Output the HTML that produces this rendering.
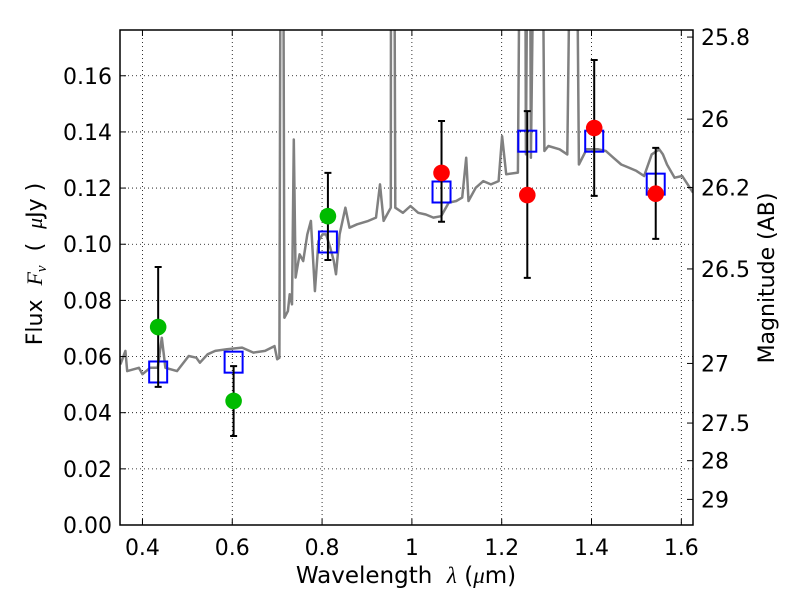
<!DOCTYPE html>
<html><head><meta charset="utf-8"><style>
html,body{margin:0;padding:0;background:#fff;}
svg text{font-family:"DejaVu Sans","Liberation Sans",sans-serif;fill:#000;}
</style></head><body>
<svg id="chart" width="800" height="600" viewBox="0 0 800 600" xmlns="http://www.w3.org/2000/svg">
<defs><clipPath id="plotclip"><rect x="120" y="30" width="573" height="495"/></clipPath></defs>
<rect x="120" y="30" width="573" height="495" fill="#fff"/>
<g id="grid"></g>
<g id="spec" clip-path="url(#plotclip)"></g>
<g id="marks"></g>
<rect x="120" y="30" width="573" height="495" fill="none" stroke="#000" stroke-width="1.5"/>
<g id="axes"></g>
<text x="406" y="583" font-size="23" text-anchor="middle" xml:space="preserve">Wavelength  <tspan font-family="Liberation Serif" font-style="italic">λ</tspan> (<tspan font-family="Liberation Serif" font-style="italic">μ</tspan>m)</text>
<text transform="translate(42,264) rotate(-90)" font-size="22" text-anchor="middle" xml:space="preserve">Flux  <tspan font-family="Liberation Serif" font-style="italic">F<tspan font-size="15" dy="4">ν</tspan></tspan><tspan dy="-4">  (  </tspan><tspan font-family="Liberation Serif" font-style="italic">μ</tspan>Jy )</text>
<text transform="translate(774,278) rotate(-90)" font-size="22" text-anchor="middle">Magnitude (AB)</text>
</svg>
<script>
const xTicks=[0.4,0.6,0.8,1.0,1.2,1.4,1.6];
const xTickLabels=["0.4","0.6","0.8","1","1.2","1.4","1.6"];
const yTicks=[0,0.02,0.04,0.06,0.08,0.10,0.12,0.14,0.16];
const yTickLabels=["0.00","0.02","0.04","0.06","0.08","0.10","0.12","0.14","0.16"];
const magTicks=[25.8,26,26.2,26.5,27,27.5,28,29];
const magTickLabels=["25.8","26","26.2","26.5","27","27.5","28","29"];
const specWave=[0.351,0.362,0.366,0.392,0.400,0.417,0.434,0.443,0.451,0.477,0.503,0.520,0.528,0.545,0.562,0.588,0.622,0.647,0.673,0.694,0.700,0.705,0.709,0.712,0.716,0.724,0.728,0.733,0.737,0.741,0.750,0.758,0.767,0.775,0.784,0.792,0.801,0.809,0.818,0.826,0.831,0.839,0.852,0.861,0.878,0.903,0.920,0.929,0.937,0.953,0.954,0.959,0.963,0.980,0.997,1.014,1.031,1.048,1.065,1.082,1.099,1.112,1.121,1.126,1.142,1.159,1.176,1.193,1.201,1.210,1.236,1.244,1.251,1.254,1.261,1.265,1.278,1.287,1.295,1.304,1.329,1.346,1.359,1.363,1.372,1.389,1.415,1.432,1.449,1.466,1.483,1.500,1.517,1.534,1.551,1.559,1.568,1.585,1.602,1.626];
const specFlux=[0.0572,0.0620,0.0548,0.0560,0.0537,0.0560,0.0560,0.0667,0.0560,0.0548,0.0602,0.0596,0.0578,0.0608,0.0620,0.0626,0.0632,0.0614,0.0620,0.0637,0.0590,0.0596,0.3,0.3,0.0738,0.0762,0.0822,0.0786,0.1373,0.0881,0.0964,0.0940,0.1035,0.1083,0.0833,0.1011,0.1035,0.1035,0.0988,0.0940,0.0893,0.1035,0.1130,0.1059,0.1071,0.1083,0.1095,0.1213,0.1083,0.1130,0.3,0.3,0.1130,0.1112,0.1136,0.1112,0.1106,0.1095,0.1100,0.1148,0.1154,0.1166,0.1308,0.1154,0.1201,0.1225,0.1213,0.1225,0.1385,0.1249,0.1255,0.3,0.3,0.1320,0.3,0.1308,0.3,0.3,0.1332,0.1350,0.1338,0.1320,0.3,0.3,0.1284,0.1338,0.1338,0.1332,0.1308,0.1284,0.1273,0.1261,0.1243,0.1320,0.1338,0.1320,0.1284,0.1237,0.1243,0.1184];
const modelWave=[0.435,0.603,0.813,1.066,1.257,1.406,1.543];
const modelFlux=[0.0545,0.058,0.1008,0.1186,0.1367,0.1367,0.1214];
const obsWave=[0.435,0.603,0.813,1.066,1.257,1.406,1.543];
const obsFlux=[0.0705,0.0442,0.110,0.1254,0.1175,0.1414,0.118];
const obsHigh=[0.0919,0.0566,0.1254,0.1439,0.1474,0.1656,0.1343];
const obsLow=[0.0492,0.0317,0.0944,0.108,0.088,0.1172,0.1019];
const obsColor=["#00bb00","#00bb00","#00bb00","#ff0000","#ff0000","#ff0000","#ff0000"];

const NS="http://www.w3.org/2000/svg";
const X0=120,X1=693,Y0=525,Y1=30,XMIN=0.35,XMAX=1.626,YMIN=0,YMAX=0.1763;
function sx(v){return X0+(v-XMIN)/(XMAX-XMIN)*(X1-X0);}
function sy(v){return Y0-(v-YMIN)/(YMAX-YMIN)*(Y0-Y1);}
function magToFlux(m){return Math.pow(10,-(m-23.9)/2.5);}
function mk(tag,attrs,parent){const e=document.createElementNS(NS,tag);for(const k in attrs)e.setAttribute(k,attrs[k]);parent.appendChild(e);return e;}
const grid=document.getElementById('grid'),axes=document.getElementById('axes'),spec=document.getElementById('spec'),marks=document.getElementById('marks');

xTicks.forEach((t,i)=>{
  const x=sx(t);
  const g=mk('line',{x1:x,x2:x,y1:Y1,y2:Y0,stroke:'#000','stroke-width':0.8,'stroke-dasharray':'1,3'},grid);
  
  
  mk('line',{x1:x,x2:x,y1:Y0,y2:Y0-6,stroke:'#000','stroke-width':1},axes);
  mk('line',{x1:x,x2:x,y1:Y1,y2:Y1+6,stroke:'#000','stroke-width':1},axes);
  const tx=mk('text',{x:x,y:Y0+30,'font-size':22,'text-anchor':'middle'},axes);
  tx.textContent=xTickLabels[i];
  
  
});
yTicks.forEach((t,i)=>{
  const y=sy(t);
  const g=mk('line',{x1:X0,x2:X1,y1:y,y2:y,stroke:'#000','stroke-width':0.8,'stroke-dasharray':'1,3'},grid);
  
  
  mk('line',{x1:X0,x2:X0+6,y1:y,y2:y,stroke:'#000','stroke-width':1},axes);
  const tx=mk('text',{x:X0-8,y:y+8,'font-size':22,'text-anchor':'end'},axes);
  tx.textContent=yTickLabels[i];
  
  
});
magTicks.forEach((m,i)=>{
  const y=sy(magToFlux(m));
  mk('line',{x1:X1,x2:X1-6,y1:y,y2:y,stroke:'#000','stroke-width':1},axes);
  const tx=mk('text',{x:X1+8,y:y+8,'font-size':22,'text-anchor':'start'},axes);
  tx.textContent=magTickLabels[i];
  
  
});

let d='';
specWave.forEach((w,i)=>{d+=(i?'L':'M')+sx(w).toFixed(1)+','+sy(specFlux[i]).toFixed(1);});
const p=mk('path',{d:d,fill:'none',stroke:'#808080','stroke-width':2.5,'stroke-linejoin':'round'},spec);



modelWave.forEach((w,i)=>{
  const r=mk('rect',{x:sx(w)-9,y:sy(modelFlux[i])-10.5,width:18,height:21,fill:'none',stroke:'#0000ff','stroke-width':2},marks);
  
  
});
obsWave.forEach((w,i)=>{
  const x=sx(w),yh=sy(obsHigh[i]),yl=sy(obsLow[i]);
  const e=mk('path',{d:`M${x},${yh}L${x},${yl}M${x-3.5},${yh}L${x+3.5},${yh}M${x-3.5},${yl}L${x+3.5},${yl}`,stroke:'#000','stroke-width':2,fill:'none'},marks);
  
  
  const c=mk('ellipse',{cx:x,cy:sy(obsFlux[i]),rx:8.3,ry:8.3,fill:obsColor[i]},marks);
  
  
});
</script>
</body></html>
